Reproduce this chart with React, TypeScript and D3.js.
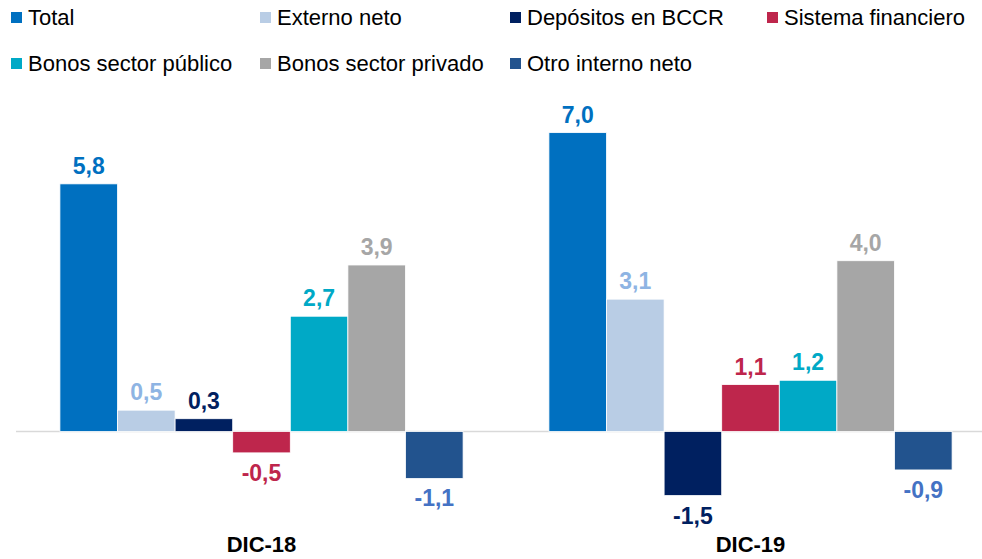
import React, { useEffect, useRef } from "react";
import * as d3 from "d3";

const categories = ["DIC-18", "DIC-19"];
const seriesNames = [
  "Total",
  "Externo neto",
  "Depósitos en BCCR",
  "Sistema financiero",
  "Bonos sector público",
  "Bonos sector privado",
  "Otro interno neto",
];
const dic18 = [5.8, 0.5, 0.3, -0.5, 2.7, 3.9, -1.1];
const dic19 = [7.0, 3.1, -1.5, 1.1, 1.2, 4.0, -0.9];
const barColors = ["#0070C0", "#B9CDE5", "#002060", "#BE264C", "#00A9C6", "#A6A6A6", "#22538E"];
const labelColors = ["#0070C0", "#8EB4E3", "#002060", "#BE264C", "#00A9C6", "#A6A6A6", "#4472C4"];

const FONT = "'Liberation Sans', Arial, sans-serif";

const App = () => {
  const ref = useRef<SVGSVGElement>(null);

  useEffect(() => {
    const width = 982;
    const svg = d3.select(ref.current);
    svg.selectAll("*").remove();

    const values = [dic18, dic19];
    const rows = categories.map((c, i) => ({
      cat: c,
      items: seriesNames.map((s, j) => ({ s, j, v: values[i][j] })),
    }));

    const x0 = d3.scaleBand().domain(categories).range([17, 995]).padding(0);
    const x1 = d3
      .scaleBand()
      .domain(seriesNames)
      .range([0, x0.bandwidth()])
      .paddingInner(0)
      .paddingOuter(0.745);

    const y = d3.scaleLinear().domain([-2.4, 7.6]).range([534, 107]);

    // zero line
    svg.append("line")
      .attr("x1", 16).attr("x2", width)
      .attr("y1", y(0)).attr("y2", y(0))
      .attr("stroke", "#D9D9D9").attr("stroke-width", 1.5);

    const groups = svg.append("g")
      .selectAll("g")
      .data(rows)
      .enter().append("g")
      .attr("transform", d => `translate(${x0(d.cat)},0)`);

    groups.selectAll("rect")
      .data(d => d.items)
      .enter().append("rect")
      .attr("x", d => x1(d.s)!)
      .attr("y", d => Math.min(y(d.v), y(0)))
      .attr("width", x1.bandwidth())
      .attr("height", d => Math.abs(y(d.v) - y(0)))
      .attr("fill", d => barColors[d.j])
      .attr("stroke", "#ffffff")
      .attr("stroke-width", 0.8);

    groups.selectAll("text")
      .data(d => d.items)
      .enter().append("text")
      .attr("x", d => x1(d.s)! + x1.bandwidth() / 2)
      .attr("y", d => (d.v >= 0 ? y(d.v) - 10 : y(d.v) + 28))
      .attr("text-anchor", "middle")
      .attr("font-family", FONT)
      .attr("font-weight", "bold")
      .attr("font-size", 23)
      .attr("fill", d => labelColors[d.j])
      .text(d => d3.format(".1f")(d.v).replace(".", ",").replace("−", "-"));

    // category labels
    svg.append("g")
      .selectAll("text")
      .data(categories)
      .enter().append("text")
      .attr("x", d => x0(d)! + x0.bandwidth() / 2)
      .attr("y", 552)
      .attr("text-anchor", "middle")
      .attr("font-family", FONT)
      .attr("font-weight", "bold")
      .attr("font-size", 22)
      .attr("fill", "#000")
      .text(d => d);

    // legend
    const legX = [11, 260, 510, 767];
    const legendItems = seriesNames.map((s, i) => ({
      s,
      i,
      x: i < 4 ? legX[i] : legX[i - 4],
      y: i < 4 ? 25 : 71,
    }));
    const leg = svg.append("g")
      .selectAll("g")
      .data(legendItems)
      .enter().append("g")
      .attr("transform", d => `translate(${d.x},${d.y})`);
    leg.append("rect")
      .attr("x", 0).attr("y", -13)
      .attr("width", 11).attr("height", 11)
      .attr("fill", d => barColors[d.i]);
    leg.append("text")
      .attr("x", 17)
      .attr("y", 0)
      .attr("font-family", FONT)
      .attr("font-size", 22)
      .attr("fill", "#000")
      .text(d => d.s);
  }, []);

  return (
    <svg
      ref={ref}
      width={982}
      height={559}
      style={{ position: "absolute", left: 0, top: 0, background: "#fff" }}
    ></svg>
  );
};

export default App;
